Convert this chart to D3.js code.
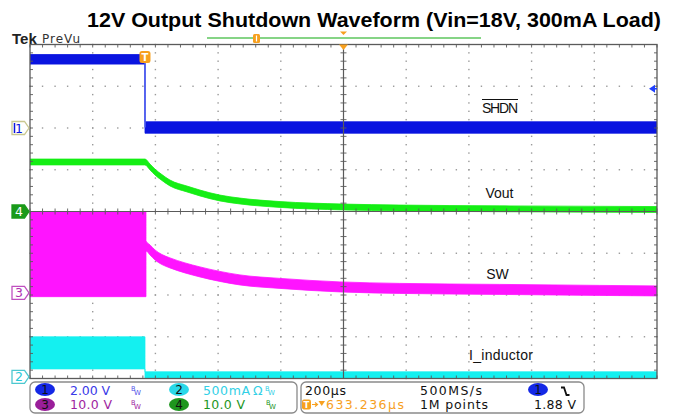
<!DOCTYPE html>
<html><head><meta charset="utf-8">
<script src="https://cdn.jsdelivr.net/npm/d3@7"></script>
<style>body{margin:0;background:#fff}svg{display:block}</style>
</head><body>
<svg id="c" width="676" height="419"></svg>
<script>
// ---------------- data ----------------
const chartTitle = "12V Output Shutdown Waveform (Vin=18V, 300mA Load)";
const timePerDiv = 200;            // µs / div
const triggerDelay = 633.236;      // µs (centre of screen relative to trigger)
const timeDomain = [triggerDelay - 5 * timePerDiv, triggerDelay + 5 * timePerDiv];

// CH1  SHDN  (2 V/div)
const shdnT  = [-366.764, 0, 0, 1633.236];
const shdnV  = [3.28, 3.28, 0.02, 0.02];
const shdnLo = [3.06, 3.06, -0.25, -0.25];
const shdnHi = [3.52, 3.52, 0.30, 0.30];

// CH4  Vout  (10 V/div)
const voutT  = [-366.764, 0, 16, 31.9, 54, 79.7, 134, 175.4, 239, 303, 430.6, 631.6, 813, 1132, 1633.236];
const voutLo = [11.16, 11.16, 9.96, 8.76, 7.44, 6.13, 4.69, 3.73, 2.53, 1.81, 0.98, 0.38, 0.14, -0.05, -0.22];
const voutHi = [12.56, 12.56, 11.36, 10.16, 8.84, 7.53, 6.09, 5.13, 3.93, 3.21, 2.38, 1.78, 1.54, 1.35, 1.18];

// CH3  SW  (10 V/div)
const swT  = [-366.764, 3.2, 3.2, 16, 31.9, 54, 79.7, 127.6, 175.4, 239, 303, 430.6, 622, 813, 1132, 1451, 1633.236];
const swLo = [-0.9, -0.9, 10.06, 9.1, 7.9, 6.8, 5.99, 4.79, 3.83, 2.75, 1.91, 1.08, 0.24, -0.12, -0.36, -0.6, -0.72];
const swHi = [19.4, 19.4, 12.45, 11.5, 10.3, 9.2, 8.39, 7.19, 6.23, 5.15, 4.31, 3.48, 2.64, 2.28, 2.04, 1.8, 1.68];

// CH2  I_inductor  (500 mA/div)
const ilT  = [-366.764, 0, 0, 1633.236];
const ilLo = [95, 95, -20, -20];
const ilHi = [479, 479, 60, 60];

// channel settings
const channelNames   = ["1", "2", "3", "4"];
const channelScales  = [2, 500, 10, 10];       // units / div
const channelOffsets = [2, -3.96, -1.95, 0];    // position (div)
const traceLabels = ["SHDN", "Vout", "SW", "I_inductor"];

// readout texts
const readCh = ["2.00 V", "500mA", "10.0 V", "10.0 V"];
const readTime = ["200µs", "500MS/s", "633.236µs", "1M points", "1.88 V"];
const trigLevel = 1.88;  // V on CH1

// ---------------- drawing ----------------
const svg = d3.select("#c");
const L = 30, R = 657, T = 44.5, B = 378.5;
const x = d3.scaleLinear().domain(timeDomain).range([L, R]);
const div = d3.scaleLinear().domain([-4, 4]).range([B, T]);
const chY = i => d3.scaleLinear()
  .domain([(-4 - channelOffsets[i]) * channelScales[i], (4 - channelOffsets[i]) * channelScales[i]])
  .range([B, T]);

const colBlue = "#0a14e0", colCyan = "#14f0f0", colMag = "#ff14ff", colGreen = "#14ee14";
const orange = "#f7a01e";

// title
svg.append("text").attr("x", 87).attr("y", 27)
  .attr("font-family", "Liberation Sans, Arial, sans-serif").attr("font-weight", "bold")
  .attr("font-size", 20.5).attr("textLength", 574).attr("lengthAdjust", "spacingAndGlyphs")
  .attr("fill", "#000").text(chartTitle);

svg.append("text").attr("x", 12).attr("y", 44).attr("font-family", "Liberation Sans, Arial")
  .attr("font-weight", "bold").attr("font-size", 15).attr("fill", "#222").text("Tek");
svg.append("text").attr("x", 42).attr("y", 43).attr("font-family", "DejaVu Sans")
  .attr("font-size", 12).attr("textLength", 38).attr("fill", "#333").text("PreVu");

// record bar
svg.append("line").attr("x1", 207).attr("x2", 481).attr("y1", 38).attr("y2", 38)
  .attr("stroke", "#86d486").attr("stroke-width", 2);
svg.append("rect").attr("x", 253).attr("y", 34).attr("width", 7).attr("height", 9).attr("rx", 1.5)
  .attr("fill", orange);
svg.append("line").attr("x1", 256.5).attr("x2", 256.5).attr("y1", 35.5).attr("y2", 41.5)
  .attr("stroke", "#fff").attr("stroke-width", 1.2);
svg.append("path").attr("d", `M${x(triggerDelay) - 3.5},31.5 h7 l-3.5,3.5 z`).attr("fill", orange);

// grid dots
const gridG = svg.append("g");
const fx = d3.range(0, 10.0001, 0.2).map(d => timeDomain[0] + d * timePerDiv);
const fy = d3.range(-4, 4.0001, 0.2);
const majX = d3.range(1, 10).filter(d => d !== 5).map(d => timeDomain[0] + d * timePerDiv);
const majY = d3.range(-3, 4).filter(d => d !== 0);
majY.forEach(v => fx.forEach(t => gridG.append("rect")
  .attr("x", x(t) - 0.7).attr("y", div(v) - 0.7).attr("width", 1.4).attr("height", 1.4).attr("fill", "#9a9a9a")));
majX.forEach(t => fy.forEach(v => gridG.append("rect")
  .attr("x", x(t) - 0.7).attr("y", div(v) - 0.7).attr("width", 1.4).attr("height", 1.4).attr("fill", "#9a9a9a")));

// traces
svg.append("clipPath").attr("id", "pc").append("rect")
  .attr("x", L).attr("y", T).attr("width", R - L).attr("height", B - T);
const tr = svg.append("g").attr("clip-path", "url(#pc)");
function band(ts, lo, hi, yS, col) {
  const rows = ts.map((t, i) => ({ t, lo: lo[i], hi: hi[i] }));
  tr.append("path").datum(rows)
    .attr("d", d3.area().x(d => x(d.t)).y0(d => yS(d.lo)).y1(d => yS(d.hi)).curve(d3.curveMonotoneX))
    .attr("fill", col).attr("stroke", col).attr("stroke-width", 0.8);
}
band(ilT, ilLo, ilHi, chY(1), colCyan);
band(swT, swLo, swHi, chY(2), colMag);
band(voutT, voutLo, voutHi, chY(3), colGreen);
band(shdnT, shdnLo, shdnHi, chY(0), colBlue);
// falling edge of SHDN (only the transition segment)
tr.append("path").datum(shdnT.slice(1, 3).map((t, i) => ({ t, v: shdnV[i + 1] })))
  .attr("d", d3.line().x(d => x(d.t)).y(d => chY(0)(d.v)))
  .attr("fill", "none").attr("stroke", "#5464f0").attr("stroke-width", 1.5);

// border + centre cross with ticks
const axG = svg.append("g").attr("stroke", "#5a5a5a");
axG.append("rect").attr("x", L).attr("y", T).attr("width", R - L).attr("height", B - T)
  .attr("fill", "none").attr("stroke-width", 1.3);
const xc = x(triggerDelay), yc = div(0);
axG.append("line").attr("x1", L).attr("x2", R).attr("y1", yc).attr("y2", yc).attr("stroke-width", 1.2);
axG.append("line").attr("x1", xc).attr("x2", xc).attr("y1", T).attr("y2", B).attr("stroke-width", 1.2);
fx.forEach(t => {
  axG.append("line").attr("x1", x(t)).attr("x2", x(t)).attr("y1", yc - 3).attr("y2", yc + 3).attr("stroke-width", 0.9);
  axG.append("line").attr("x1", x(t)).attr("x2", x(t)).attr("y1", T).attr("y2", T + 3).attr("stroke-width", 0.9);
  axG.append("line").attr("x1", x(t)).attr("x2", x(t)).attr("y1", B - 3).attr("y2", B).attr("stroke-width", 0.9);
});
fy.forEach(v => {
  axG.append("line").attr("y1", div(v)).attr("y2", div(v)).attr("x1", xc - 3).attr("x2", xc + 3).attr("stroke-width", 0.9);
  axG.append("line").attr("y1", div(v)).attr("y2", div(v)).attr("x1", L).attr("x2", L + 3).attr("stroke-width", 0.9);
  axG.append("line").attr("y1", div(v)).attr("y2", div(v)).attr("x1", R - 3).attr("x2", R).attr("stroke-width", 0.9);
});

// trigger position markers
svg.append("path").attr("d", `M${xc - 4.5},${T} h9 l-4.5,5.5 z`).attr("fill", orange);
const xt = x(0);
svg.append("rect").attr("x", xt - 5.5).attr("y", 51).attr("width", 11).attr("height", 12).attr("rx", 2.5).attr("fill", orange);
svg.append("text").attr("x", xt).attr("y", 61).attr("text-anchor", "middle").attr("font-family", "DejaVu Sans")
  .attr("font-size", 10).attr("font-weight", "bold").attr("fill", "#fff").text("T");

// trigger level arrow (CH1)
const yTrig = chY(0)(trigLevel);
svg.append("path").attr("d", `M${R - 8},${yTrig} l6,-4 v8 z`).attr("fill", "#2040ff");
svg.append("line").attr("x1", R - 3).attr("x2", R).attr("y1", yTrig).attr("y2", yTrig).attr("stroke", "#2040ff").attr("stroke-width", 1.5);

// channel ground markers
const mk = [
  { stroke: "#c8c890", fill: "#fff", text: colBlue },
  { stroke: "#4cc8d0", fill: "#fff", text: "#28c8d8" },
  { stroke: "#c050c0", fill: "#fff", text: "#b030b0" },
  { stroke: "#1a9a1a", fill: "#1a9a1a", text: "#fff" }
];
channelNames.forEach((n, i) => {
  const y0 = chY(i)(0), x0 = 12;
  svg.append("path").attr("d", `M${x0},${y0 - 6.5} h12.5 l4.5,6.5 l-4.5,6.5 h-12.5 z`)
    .attr("fill", mk[i].fill).attr("stroke", mk[i].stroke).attr("stroke-width", 1.3);
  svg.append("text").attr("x", x0 + 7).attr("y", y0 + 4.5).attr("text-anchor", "middle")
    .attr("font-family", "DejaVu Sans").attr("font-size", 12.5).attr("fill", mk[i].text).text(n);
});
svg.append("line").attr("x1", 14.5).attr("x2", 14.5).attr("y1", chY(0)(0) - 5).attr("y2", chY(0)(0) + 5)
  .attr("stroke", colBlue).attr("stroke-width", 1.5);

// trace labels
const lab = svg.append("g").attr("font-family", "Liberation Sans, Arial").attr("font-size", 14)
  .attr("fill", "#111").attr("text-anchor", "middle");
lab.append("text").attr("x", 500).attr("y", 112.5).attr("textLength", 36).text(traceLabels[0]);
lab.append("line").attr("x1", 482).attr("x2", 518).attr("y1", 99.5).attr("y2", 99.5).attr("stroke", "#111").attr("stroke-width", 1);
lab.append("text").attr("x", 499.5).attr("y", 197.5).text(traceLabels[1]);
lab.append("text").attr("x", 497.5).attr("y", 278.5).text(traceLabels[2]);
lab.append("text").attr("x", 501).attr("y", 359.5).attr("textLength", 64).text(traceLabels[3]);

// readout panel
const pan = svg.append("g").attr("font-family", "DejaVu Sans").attr("font-size", 12.5);
pan.append("rect").attr("x", 30).attr("y", 382).attr("width", 267).attr("height", 31).attr("rx", 5)
  .attr("fill", "#fff").attr("stroke", "#8a8a8a").attr("stroke-width", 1.3);
pan.append("rect").attr("x", 301).attr("y", 382).attr("width", 283).attr("height", 31).attr("rx", 5)
  .attr("fill", "#fff").attr("stroke", "#8a8a8a").attr("stroke-width", 1.3);

const badge = (cx, cy, fill, label) => {
  pan.append("ellipse").attr("cx", cx).attr("cy", cy).attr("rx", 10).attr("ry", 6.5).attr("fill", fill);
  pan.append("text").attr("x", cx).attr("y", cy + 4.5).attr("text-anchor", "middle").attr("font-size", 12)
    .attr("fill", "#101010").text(label);
};
const bw = (bx, by, col) => {
  pan.append("text").attr("x", bx).attr("y", by - 4).attr("font-size", 6.5).attr("fill", col).text("B");
  pan.append("text").attr("x", bx + 3).attr("y", by).attr("font-size", 7).attr("fill", col).text("W");
};
const rows = [395, 409];
badge(45, 389.5, "#1428e6", channelNames[0]);
pan.append("text").attr("x", 70).attr("y", rows[0]).attr("fill", "#3a3ae8").attr("textLength", 40).text(readCh[0]);
bw(131, rows[0], "#5050e8");
badge(179, 389.5, "#2ad8e8", channelNames[1]);
pan.append("text").attr("x", 203).attr("y", rows[0]).attr("fill", "#32d0e6").attr("textLength", 47).text(readCh[1]);
pan.append("text").attr("x", 253).attr("y", rows[0]).attr("fill", "#32d0e6").text("Ω");
bw(265, rows[0], "#32d0e6");

badge(45, 404.5, "#9a1e9a", channelNames[2]);
pan.append("text").attr("x", 70).attr("y", rows[1]).attr("fill", "#a01ea0").attr("textLength", 42).text(readCh[2]);
bw(131, rows[1], "#a01ea0");
badge(179, 404.5, "#1e961e", channelNames[3]);
pan.append("text").attr("x", 203).attr("y", rows[1]).attr("fill", "#1e961e").attr("textLength", 42).text(readCh[3]);
bw(266, rows[1], "#1e961e");

pan.append("text").attr("x", 305).attr("y", rows[0]).attr("fill", "#111").attr("textLength", 41).text(readTime[0]);
pan.append("text").attr("x", 420).attr("y", rows[0]).attr("fill", "#111").attr("textLength", 62).text(readTime[1]);
badge(538, 389.5, "#1428e6", channelNames[0]);
pan.append("path").attr("d", "M561,387.5 h3 l2.5,7.5 h3").attr("fill", "none").attr("stroke", "#111").attr("stroke-width", 1.8);

pan.append("rect").attr("x", 302).attr("y", 399.5).attr("width", 9).attr("height", 10).attr("rx", 2).attr("fill", orange);
pan.append("text").attr("x", 306.5).attr("y", 408).attr("text-anchor", "middle").attr("font-size", 8.5).attr("font-weight", "bold").attr("fill", "#fff").text("T");
pan.append("path").attr("d", "M312,404.5 h5 M315,402.5 l2.5,2 l-2.5,2").attr("stroke", orange).attr("stroke-width", 1.2).attr("fill", "none");
pan.append("path").attr("d", "M318.5,401 h6.5 l-3.25,5 z").attr("fill", orange);
pan.append("text").attr("x", 326).attr("y", rows[1]).attr("fill", orange).attr("textLength", 78).text(readTime[2]);
pan.append("text").attr("x", 420).attr("y", rows[1]).attr("fill", "#111").attr("textLength", 68).text(readTime[3]);
pan.append("text").attr("x", 534).attr("y", rows[1]).attr("fill", "#111").attr("textLength", 42).text(readTime[4]);
</script>
</body></html>
